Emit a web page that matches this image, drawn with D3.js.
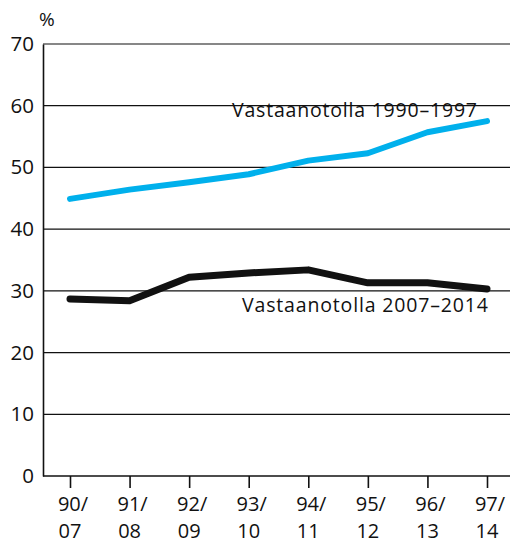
<!DOCTYPE html>
<html>
<head>
<meta charset="utf-8">
<script src="https://cdn.jsdelivr.net/npm/d3@7"></script>
<style>
  html, body { margin: 0; padding: 0; background: #fff; }
  svg text { font-family: "Open Sans", "DejaVu Sans", sans-serif; fill: #111; }
</style>
</head>
<body>
<div id="chart"></div>
<script>
const categories = ["90/07", "91/08", "92/09", "93/10", "94/11", "95/12", "96/13", "97/14"];
const series1990 = [44.9, 46.4, 47.6, 48.9, 51.1, 52.3, 55.7, 57.5];
const series2007 = [28.7, 28.4, 32.2, 32.9, 33.4, 31.3, 31.3, 30.3];
const yTicks = [0, 10, 20, 30, 40, 50, 60, 70];
const labels = ["Vastaanotolla 1990\u20131997", "Vastaanotolla 2007\u20132014"];

const W = 510, H = 544;
const margin = { top: 44, right: 0, bottom: 68, left: 43 };

const svg = d3.select('#chart').append('svg')
  .attr('width', W)
  .attr('height', H);

const y = d3.scaleLinear()
  .domain([0, 70])
  .range([H - margin.bottom, margin.top]);

const x = d3.scalePoint()
  .domain(categories)
  .range([70, 487]);

// grid lines
svg.append('g')
  .selectAll('line')
  .data(yTicks.filter(d => d > 0))
  .join('line')
  .attr('x1', margin.left)
  .attr('x2', W)
  .attr('y1', d => y(d))
  .attr('y2', d => y(d))
  .attr('stroke', '#111')
  .attr('stroke-width', 1.2);

// y axis
const yAxis = svg.append('g')
  .attr('transform', `translate(${margin.left},0)`)
  .call(d3.axisLeft(y).tickValues(yTicks).tickSize(0).tickPadding(9));
yAxis.select('.domain').attr('stroke', '#111').attr('stroke-width', 1.6);
yAxis.selectAll('text')
  .attr('font-size', 20.5)
  .attr('font-family', '"Open Sans", "DejaVu Sans", sans-serif')
  .attr('fill', '#111');

svg.append('text')
  .attr('x', 39)
  .attr('y', 26)
  .attr('font-size', 19)
  .text('%');

// x axis
const xAxis = svg.append('g')
  .attr('transform', `translate(0,${y(0)})`)
  .call(d3.axisBottom(x).tickSize(12).tickFormat(''));
xAxis.select('.domain').remove();
xAxis.append('line')
  .attr('x1', margin.left)
  .attr('x2', W)
  .attr('stroke', '#111')
  .attr('stroke-width', 1.6);
xAxis.selectAll('.tick line').attr('stroke', '#111').attr('stroke-width', 1.6);

const xl = svg.append('g')
  .selectAll('text')
  .data(categories)
  .join('text')
  .attr('x', d => x(d))
  .attr('y', 511)
  .attr('text-anchor', 'middle')
  .attr('font-size', 20);
xl.append('tspan').attr('x', d => x(d) + 3).text(d => d.split('/')[0] + '/');
xl.append('tspan').attr('x', d => x(d)).attr('dy', 27).text(d => d.split('/')[1]);

const line = d3.line()
  .x((d, i) => x(categories[i]))
  .y(d => y(d));

svg.append('path')
  .datum(series1990)
  .attr('fill', 'none')
  .attr('stroke', '#00b0ec')
  .attr('stroke-width', 6)
  .attr('stroke-linecap', 'round')
  .attr('stroke-linejoin', 'round')
  .attr('d', line);

svg.append('path')
  .datum(series2007)
  .attr('fill', 'none')
  .attr('stroke', '#111')
  .attr('stroke-width', 7)
  .attr('stroke-linecap', 'round')
  .attr('stroke-linejoin', 'round')
  .attr('d', line);

svg.append('text')
  .attr('x', 232)
  .attr('y', 117)
  .attr('font-size', 19.5)
  .attr('textLength', 245)
  .attr('lengthAdjust', 'spacing')
  .text(labels[0]);

svg.append('text')
  .attr('x', 242)
  .attr('y', 312)
  .attr('font-size', 19.5)
  .attr('textLength', 246)
  .attr('lengthAdjust', 'spacing')
  .text(labels[1]);
</script>
</body>
</html>
